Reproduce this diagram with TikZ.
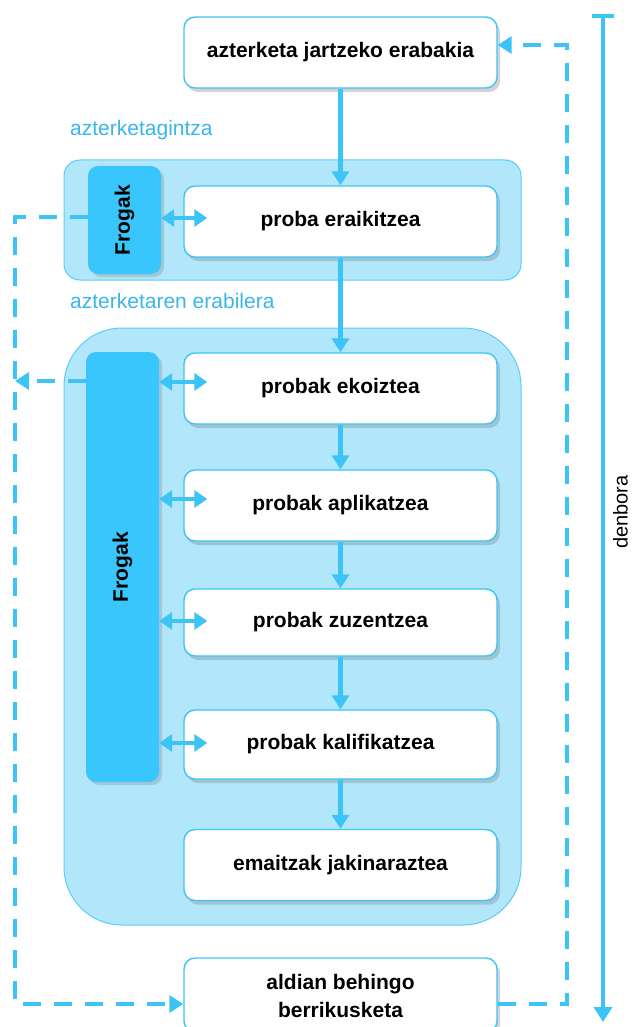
\documentclass[tikz,border=0pt]{standalone}
\usepackage{fontspec}
\setmainfont{Liberation Sans}
\usetikzlibrary{arrows.meta,shadows,calc}
\definecolor{linecol}{HTML}{3CC4F7}
\definecolor{panelfill}{HTML}{B2E7FB}
\definecolor{panelline}{HTML}{5ACDF7}
\definecolor{frogfill}{HTML}{38C6FC}
\definecolor{labelcol}{HTML}{3AB6EA}
\tikzset{
  stepbox/.style={draw=linecol, line width=1.4pt, fill=white, rounded corners=11pt,
    minimum width=313pt, minimum height=71pt, inner sep=0pt,
    font=\fontsize{21}{28}\selectfont\bfseries,
    drop shadow={shadow xshift=3pt, shadow yshift=-4pt, opacity=0.35, fill=gray}},
  frogbox/.style={fill=frogfill, rounded corners=10pt, minimum width=73pt, inner sep=0pt,
    drop shadow={shadow xshift=3pt, shadow yshift=-3pt, opacity=0.3, fill=gray}},
  frogtext/.style={rotate=90, font=\fontsize{21}{24}\selectfont\bfseries},
  panel/.style={fill=panelfill, draw=panelline, line width=1pt},
  phaselabel/.style={text=labelcol, font=\fontsize{21}{24}\selectfont, anchor=west, inner sep=0pt},
  flow/.style={draw=linecol, line width=4.5pt, -{Triangle[length=14pt,width=17pt]}},
  twoway/.style={draw=linecol, line width=4.5pt, {Triangle[length=13pt,width=17pt]}-{Triangle[length=13pt,width=17pt]}},
  loop/.style={draw=linecol, line width=4.5pt, dash pattern=on 18pt off 13pt},
  loophead/.style={-{Triangle[length=14pt,width=17pt]}},
}
\begin{document}
\begin{tikzpicture}[x=1pt,y=-1pt]
\useasboundingbox (0,0) rectangle (635,1027);

% phase panels
\draw[panel, rounded corners=16pt] (64,160) rectangle (521,280);
\draw[panel, rounded corners=58pt] (64,328) rectangle (521,925);
\node[phaselabel] (lab1) at (70,130) {azterketagintza};
\node[phaselabel] (lab2) at (70,301) {azterketaren erabilera};

% evidence columns
\node[frogbox, minimum height=108pt] (frog1) at (124.5,220) {};
\node[frogtext] (frog1t) at (frog1.center) {Frogak};
\node[frogbox, minimum height=430pt] (frog2) at (122.5,567) {};
\node[frogtext] (frog2t) at (frog2.center) {Frogak};

% process steps
\node[stepbox] (decide) at (340.5,52.5) {azterketa jartzeko erabakia};
\node[stepbox] (build) at (340.5,221.5) {proba eraikitzea};
\node[stepbox] (produce) at (340.5,388.5) {probak ekoiztea};
\node[stepbox] (apply) at (340.5,505.5) {probak aplikatzea};
\node[stepbox, minimum height=67pt] (correct) at (340.5,622.5) {probak zuzentzea};
\node[stepbox, minimum height=69pt] (grade) at (340.5,744.5) {probak kalifikatzea};
\node[stepbox] (report) at (340.5,865) {emaitzak jakinaraztea};
\node[stepbox, minimum height=74pt, align=center] (review) at (340.5,995) {};
\node[font=\fontsize{21}{28}\selectfont\bfseries, align=center] (reviewt) at (340.5,996) {aldian behingo\\berrikusketa};

% main flow
\draw[flow] (decide) -- (build);
\draw[flow] (build) -- (produce);
\draw[flow] (produce) -- (apply);
\draw[flow] (apply) -- (correct);
\draw[flow] (correct) -- (grade);
\draw[flow] (grade) -- (report);

% evidence exchange
\draw[twoway] (frog1.east |- 0,218) -- ($(build.west |- 0,218)+(24,0)$);
\draw[twoway] (frog2.east |- 0,382) -- ($(produce.west |- 0,382)+(24,0)$);
\draw[twoway] (frog2.east |- 0,499) -- ($(apply.west |- 0,499)+(24,0)$);
\draw[twoway] (frog2.east |- 0,621) -- ($(correct.west |- 0,621)+(24,0)$);
\draw[twoway] (frog2.east |- 0,743) -- ($(grade.west |- 0,743)+(24,0)$);

% review loops
\coordinate (lc1) at (15,217);
\coordinate (lc2) at (15,1004);
\coordinate (rc1) at (567,1004);
\coordinate (rc2) at (567,45);
\draw[loop, loophead] (frog1.west |- lc1) -- (lc1) -- (lc2) -- (review.west |- lc2);
\draw[loop, loophead] (frog2.west |- 0,381) -- (15,381);
\draw[loop, loophead] (review.east |- rc1) -- (rc1) -- (rc2) -- (decide.east |- rc2);

% time axis
\coordinate (t0) at (603,14);
\coordinate (t1) at (603,1022);
\draw[draw=linecol, line width=4.5pt, {Bar[width=22pt]}-{Triangle[length=15pt,width=18pt]}] (t0) -- (t1);
\node[rotate=90, font=\fontsize{20}{24}\selectfont, anchor=north, inner sep=0pt] (time) at (613,512) {denbora};
\end{tikzpicture}
\end{document}
